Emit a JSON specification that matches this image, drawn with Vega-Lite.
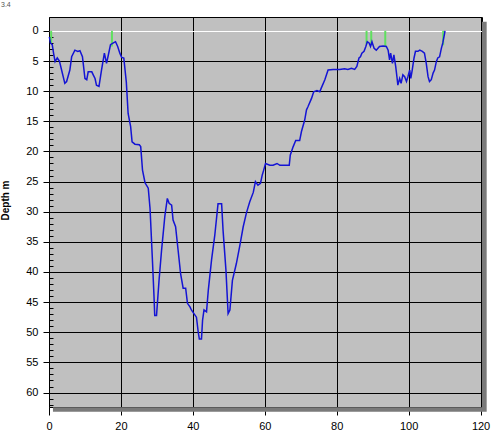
{
  "$schema": "https://vega.github.io/schema/vega-lite/v6.json",
  "width": 433,
  "height": 390,
  "autosize": {"type": "none"},
  "padding": {"left": 49, "top": 17, "right": 18, "bottom": 38},
  "background": "white",
  "title": {"text": "3.4", "anchor": "start", "frame": "group", "fontSize": 7, "font": "Liberation Sans", "fontWeight": "normal", "color": "#555555", "dx": -48, "offset": 9},
  "config": {
    "view": {"fill": "#c0c0c0", "stroke": "#000000", "strokeWidth": 1},
    "font": "Liberation Sans"
  },
  "datasets": {
    "profile": [
      {"x": 0.1, "d": 1.0}, {"x": 0.4, "d": 2.0}, {"x": 0.9, "d": 2.3}, {"x": 1.3, "d": 3.8}, {"x": 1.7, "d": 5.1},
      {"x": 2.3, "d": 4.5}, {"x": 2.9, "d": 5.0}, {"x": 3.5, "d": 6.5}, {"x": 4.4, "d": 8.7}, {"x": 4.9, "d": 8.4},
      {"x": 5.8, "d": 6.5}, {"x": 6.3, "d": 4.3}, {"x": 7.2, "d": 3.2}, {"x": 8.0, "d": 3.4}, {"x": 8.6, "d": 3.3},
      {"x": 9.3, "d": 4.3}, {"x": 10.0, "d": 7.9}, {"x": 10.5, "d": 8.1}, {"x": 10.9, "d": 6.8}, {"x": 11.9, "d": 6.8},
      {"x": 12.3, "d": 7.3}, {"x": 12.8, "d": 7.9}, {"x": 13.2, "d": 9.0}, {"x": 13.9, "d": 9.2}, {"x": 14.6, "d": 6.5},
      {"x": 15.4, "d": 3.7}, {"x": 16.0, "d": 5.4}, {"x": 16.5, "d": 4.0}, {"x": 17.1, "d": 2.3}, {"x": 17.9, "d": 2.0},
      {"x": 18.5, "d": 1.8}, {"x": 19.1, "d": 2.6}, {"x": 19.7, "d": 3.7}, {"x": 20.2, "d": 4.4}, {"x": 20.8, "d": 4.5},
      {"x": 21.5, "d": 8.5}, {"x": 22.0, "d": 13.7}, {"x": 22.7, "d": 15.9}, {"x": 23.1, "d": 18.4}, {"x": 23.9, "d": 18.8},
      {"x": 25.1, "d": 18.9}, {"x": 25.5, "d": 19.2}, {"x": 26.0, "d": 23.1}, {"x": 26.7, "d": 25.2}, {"x": 27.6, "d": 26.1},
      {"x": 28.1, "d": 29.5}, {"x": 28.8, "d": 38.6}, {"x": 29.2, "d": 44.1}, {"x": 29.4, "d": 47.2}, {"x": 29.9, "d": 47.2},
      {"x": 30.6, "d": 41.4}, {"x": 31.3, "d": 36.4}, {"x": 31.8, "d": 33.3}, {"x": 32.2, "d": 30.8}, {"x": 32.9, "d": 27.8},
      {"x": 33.4, "d": 28.6}, {"x": 34.1, "d": 28.9}, {"x": 34.5, "d": 31.4}, {"x": 35.2, "d": 32.5}, {"x": 35.9, "d": 36.4},
      {"x": 36.6, "d": 40.3}, {"x": 37.3, "d": 42.7}, {"x": 38.0, "d": 42.7}, {"x": 38.5, "d": 45.2}, {"x": 39.2, "d": 45.8},
      {"x": 39.6, "d": 46.3}, {"x": 40.3, "d": 46.9}, {"x": 41.0, "d": 47.5}, {"x": 41.5, "d": 50.0}, {"x": 41.8, "d": 51.1},
      {"x": 42.4, "d": 51.1}, {"x": 42.7, "d": 48.0}, {"x": 43.1, "d": 46.3}, {"x": 43.8, "d": 46.6}, {"x": 44.3, "d": 43.0},
      {"x": 45.2, "d": 38.0}, {"x": 46.1, "d": 33.9}, {"x": 47.0, "d": 28.7}, {"x": 48.0, "d": 28.7}, {"x": 48.4, "d": 33.1},
      {"x": 49.2, "d": 39.7}, {"x": 49.8, "d": 46.9}, {"x": 50.3, "d": 46.3}, {"x": 51.0, "d": 41.4}, {"x": 52.1, "d": 38.6},
      {"x": 53.1, "d": 35.5}, {"x": 54.0, "d": 32.5}, {"x": 54.9, "d": 30.2}, {"x": 55.8, "d": 28.4}, {"x": 56.8, "d": 26.8},
      {"x": 57.4, "d": 25.0}, {"x": 58.1, "d": 25.6}, {"x": 58.8, "d": 25.3}, {"x": 59.3, "d": 23.9}, {"x": 59.7, "d": 23.1},
      {"x": 60.2, "d": 22.0}, {"x": 61.4, "d": 22.3}, {"x": 62.3, "d": 22.3}, {"x": 63.4, "d": 22.0}, {"x": 64.2, "d": 22.3},
      {"x": 65.1, "d": 22.3}, {"x": 66.8, "d": 22.3}, {"x": 67.1, "d": 20.6}, {"x": 67.9, "d": 19.2}, {"x": 68.6, "d": 18.2},
      {"x": 69.7, "d": 18.2}, {"x": 70.2, "d": 16.7}, {"x": 71.1, "d": 14.8}, {"x": 71.6, "d": 13.1}, {"x": 72.0, "d": 12.6},
      {"x": 73.0, "d": 11.2}, {"x": 73.6, "d": 10.1}, {"x": 74.5, "d": 9.9}, {"x": 75.3, "d": 10.1}, {"x": 75.7, "d": 9.5},
      {"x": 76.7, "d": 8.1}, {"x": 77.6, "d": 6.5}, {"x": 79.0, "d": 6.4}, {"x": 80.8, "d": 6.4}, {"x": 82.2, "d": 6.3},
      {"x": 83.1, "d": 6.4}, {"x": 84.1, "d": 6.2}, {"x": 85.0, "d": 6.4}, {"x": 85.6, "d": 5.9}, {"x": 86.2, "d": 4.5},
      {"x": 86.6, "d": 4.3}, {"x": 87.0, "d": 3.7}, {"x": 87.6, "d": 3.4}, {"x": 88.1, "d": 2.6}, {"x": 88.5, "d": 1.8},
      {"x": 89.0, "d": 2.0}, {"x": 89.4, "d": 2.6}, {"x": 89.8, "d": 1.8}, {"x": 90.4, "d": 2.9}, {"x": 91.0, "d": 3.2},
      {"x": 91.9, "d": 2.6}, {"x": 92.9, "d": 2.5}, {"x": 93.8, "d": 2.6}, {"x": 94.3, "d": 3.2}, {"x": 94.7, "d": 4.8},
      {"x": 95.0, "d": 3.7}, {"x": 95.5, "d": 5.4}, {"x": 95.9, "d": 4.0}, {"x": 96.4, "d": 5.9}, {"x": 96.8, "d": 7.9},
      {"x": 97.0, "d": 9.0}, {"x": 97.5, "d": 7.9}, {"x": 97.9, "d": 8.7}, {"x": 98.4, "d": 7.3}, {"x": 98.9, "d": 7.6},
      {"x": 99.4, "d": 8.4}, {"x": 99.8, "d": 7.6}, {"x": 100.3, "d": 6.5}, {"x": 100.6, "d": 7.9}, {"x": 101.0, "d": 6.5},
      {"x": 101.5, "d": 4.5}, {"x": 101.9, "d": 3.4}, {"x": 102.6, "d": 3.4}, {"x": 103.1, "d": 3.2}, {"x": 103.8, "d": 3.4},
      {"x": 104.4, "d": 3.7}, {"x": 104.9, "d": 5.4}, {"x": 105.4, "d": 7.6}, {"x": 105.8, "d": 8.4}, {"x": 106.3, "d": 8.1},
      {"x": 106.8, "d": 7.0}, {"x": 107.2, "d": 6.5}, {"x": 107.7, "d": 5.1}, {"x": 108.1, "d": 4.5}, {"x": 108.6, "d": 4.3},
      {"x": 109.1, "d": 2.9}, {"x": 109.5, "d": 2.0}, {"x": 110.0, "d": 0.4}, {"x": 110.1, "d": 0.0}
    ],
    "markers": [
      {"x": 0.6, "d": 2.0}, {"x": 17.5, "d": 2.6}, {"x": 88.3, "d": 2.2},
      {"x": 89.6, "d": 2.4}, {"x": 93.5, "d": 2.7}, {"x": 109.6, "d": 2.4}
    ]
  },
  "layer": [
    {
      "data": {"values": [{"s": 1}]},
      "mark": {"type": "rect", "color": "#7a7a7a"},
      "encoding": {
        "x": {"datum": 120.4, "type": "quantitative"},
        "x2": {"datum": 121.7},
        "y": {"datum": -1.5, "type": "quantitative"},
        "y2": {"datum": 63.2}
      }
    },
    {
      "data": {"values": [{"s": 1}]},
      "mark": {"type": "rect", "color": "#7a7a7a"},
      "encoding": {
        "x": {"datum": 1.1, "type": "quantitative"},
        "x2": {"datum": 120.4},
        "y": {"datum": 62.45, "type": "quantitative"},
        "y2": {"datum": 63.2}
      }
    },
    {
      "data": {"name": "markers"},
      "mark": {"type": "rule", "color": "#5fe05f", "strokeWidth": 2},
      "encoding": {
        "x": {"field": "x", "type": "quantitative"},
        "y": {"field": "d", "type": "quantitative"},
        "y2": {"datum": 0}
      }
    },
    {
      "data": {"name": "profile"},
      "mark": {"type": "line", "color": "#1414d4", "strokeWidth": 1.5},
      "encoding": {
        "x": {
          "field": "x", "type": "quantitative",
          "scale": {"domain": [0, 120.4], "nice": false, "zero": false},
          "axis": {
            "title": null,
            "values": [0, 20, 40, 60, 80, 100, 120],
            "tickCount": 20,
            "format": "d",
            "grid": true, "gridColor": "#000000", "gridWidth": 1, "gridOpacity": 1,
            "domain": false,
            "ticks": true, "tickSize": 8, "tickColor": "#000000", "tickWidth": 1,
            "labelPadding": 5, "labelFontSize": 11, "labelFont": "Liberation Sans", "labelColor": "#000000",
            "labelFlush": false, "labelOverlap": false
          }
        },
        "y": {
          "field": "d", "type": "quantitative",
          "scale": {"domain": [-2.3, 62.4], "nice": false, "zero": false, "reverse": true},
          "axis": {
            "title": "Depth m",
            "titleFont": "Liberation Sans", "titleFontSize": 10, "titleFontWeight": "bold", "titleColor": "#000000",
            "titleX": -44, "titleY": 183, "titleBaseline": "middle", "titleAlign": "center", "titleAngle": -90,
            "values": [0,1,2,3,4,5,6,7,8,9,10,11,12,13,14,15,16,17,18,19,20,21,22,23,24,25,26,27,28,29,30,31,32,33,34,35,36,37,38,39,40,41,42,43,44,45,46,47,48,49,50,51,52,53,54,55,56,57,58,59,60,61,62],
            "tickCount": 200,
            "format": "d",
            "labelExpr": "datum.value % 5 === 0 ? datum.label : ''",
            "grid": true,
            "gridColor": {"condition": {"test": "datum.value === 0", "value": "#ffffff"}, "value": "#000000"},
            "gridOpacity": {"condition": {"test": "datum.value % 5 === 0", "value": 1}, "value": 0},
            "gridWidth": 1,
            "domain": false,
            "ticks": true,
            "tickSize": {"condition": {"test": "datum.value % 5 === 0", "value": 6}, "value": -4},
            "tickColor": "#000000", "tickWidth": 1,
            "labelPadding": 5, "labelFontSize": 11, "labelFont": "Liberation Sans", "labelColor": "#000000",
            "labelFlush": false, "labelOverlap": false
          }
        }
      }
    }
  ]
}
